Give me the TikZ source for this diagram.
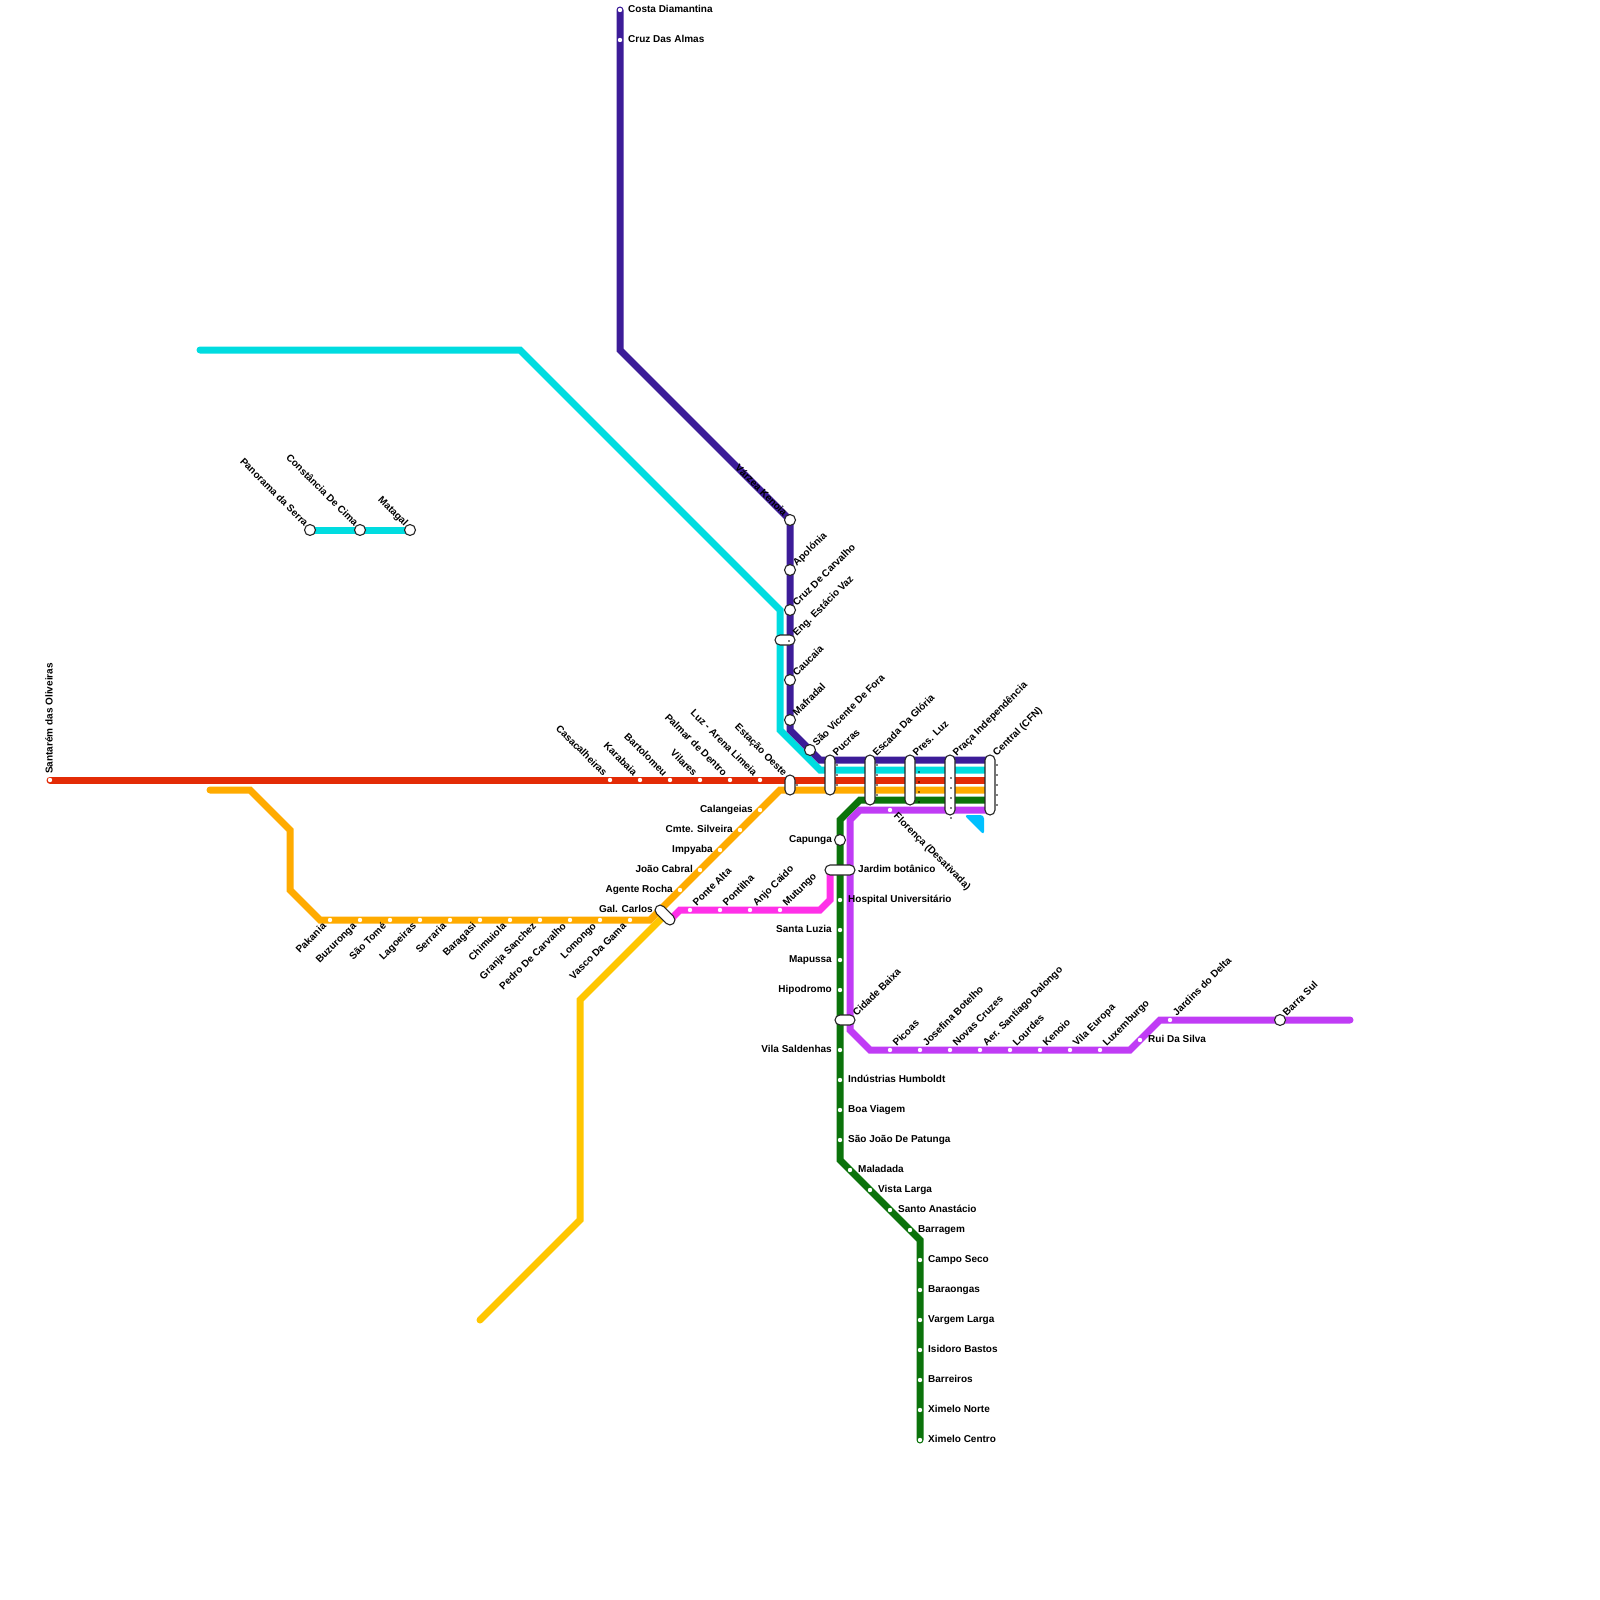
\documentclass[tikz,border=0pt]{standalone}
\usepackage{fontspec}
\setmainfont{Liberation Sans}
\definecolor{redline}{HTML}{E32B06}
\definecolor{purpleline}{HTML}{3C1C98}
\definecolor{cyanline}{HTML}{00DCE0}
\definecolor{orangeline}{HTML}{FFAB00}
\definecolor{yellowline}{HTML}{FFC600}
\definecolor{greenline}{HTML}{0B730B}
\definecolor{violetline}{HTML}{C03CF5}
\definecolor{pinkline}{HTML}{FF30E8}
\definecolor{skyline}{HTML}{00C0FF}

\begin{document}
\begin{tikzpicture}[
  x=1pt, y=-1pt,
  font=\fontsize{10}{12}\bfseries,
  route/.style={line width=7pt, line cap=round, line join=miter},
  halt/.style={circle, fill=white, minimum size=4.4pt, inner sep=0pt},
  hub/.style={circle, draw=black!85, fill=white, line width=1.1pt, minimum size=11pt, inner sep=0pt},
  capsule/.style={draw=black!85, fill=white, line width=1.1pt, rounded corners=5pt, inner sep=0pt,
    minimum width=#1, minimum height=10pt},
  uptext/.style={rotate=45, anchor=west, inner sep=0pt, text height=7.2pt, text depth=2pt},
  downtext/.style={rotate=-45, anchor=east, inner sep=0pt, text height=7.2pt, text depth=2pt},
  falltext/.style={rotate=-45, anchor=west, inner sep=0pt, text height=7.2pt, text depth=2pt},
  backtext/.style={rotate=45, anchor=east, inner sep=0pt, text height=7.2pt, text depth=2pt},
  lefttext/.style={anchor=east, inner sep=0pt, text height=7.2pt, text depth=2pt},
  righttext/.style={anchor=west, inner sep=0pt, text height=7.2pt, text depth=2pt}
]
\useasboundingbox (0,0) rectangle (1600,1600);

% bends of the lines
\foreach \n/\x/\y in {r0/50/780, r1/990/780,
  c0/200/350, c1/520/350, c2/780/610, c3/780/730, c4/820/770, c5/990/770, c6/310/530, c7/410/530,
  u0/620/10, u1/620/350, u2/790/520, u3/790/730, u4/820/760, u5/990/760,
  o0/210/790, o1/250/790, o2/290/830, o3/290/890, o4/320/920, o5/650/920, o6/780/790, o7/990/790,
  y0/480/1320, y1/580/1220, y2/580/1000, y3/665/915,
  m0/669/921, m1/680/910, m2/820/910, m3/830/900, m4/830/870,
  g0/990/800, g1/860/800, g2/840/820, g3/840/1160, g4/920/1240, g5/920/1440,
  v0/990/810, v1/860/810, v2/850/820, v3/850/1030, v4/870/1050, v5/1130/1050, v6/1160/1020, v7/1350/1020}
  \coordinate (\n) at (\x,\y);

\draw[route, cyanline] (c0) -- (c1) -- (c2) -- (c3) -- (c4) -- (c5);
\draw[route, cyanline] (c6) -- (c7);
\draw[route, purpleline] (u0) -- (u1) -- (u2) -- (u3) -- (u4) -- (u5);
\draw[route, redline] (r0) -- (r1);
\draw[route, orangeline] (o0) -- (o1) -- (o2) -- (o3) -- (o4) -- (o5) -- (o6) -- (o7);
\draw[route, yellowline] (y0) -- (y1) -- (y2) -- (y3);
\draw[route, pinkline] (m0) -- (m1) -- (m2) -- (m3) -- (m4);
\draw[route, greenline] (g0) -- (g1) -- (g2) -- (g3) -- (g4) -- (g5);
\draw[route, violetline] (v0) -- (v1) -- (v2) -- (v3) -- (v4) -- (v5) -- (v6) -- (v7);
\fill[skyline, rounded corners=3.5pt] (964,815) -- (984,815) -- (984,835) -- cycle;

% purple line
\node[halt] (costa) at (620,10) {};
\node[halt] (almas) at (620,40) {};
\node[righttext] (costat) at (628,10) {Costa Diamantina};
\node[righttext] (almast) at (628,40) {Cruz Das Almas};
\node[hub] (varzea) at (790,520) {};
\node[downtext] (varzeat) at (785,515) {Várzea Kenoia};
\foreach \y/\name in {570/Apolónia, 610/Cruz De Carvalho, 680/Caucaia, 720/Mafradal} {
  \node[hub] (u\y) at (790,\y) {};
  \node[uptext] (u\y t) at (795,\y-5) {\name};
}
\node[capsule=20pt] (estacio) at (785,640) {};
\node[uptext] (estaciot) at (795,635) {Eng. Estácio Vaz};
\node[hub] (vicente) at (810,750) {};
\node[uptext] (vicentet) at (815,745) {São Vicente De Fora};

% cyan branch
\foreach \x/\name in {310/Panorama da Serra, 360/Constância De Cima, 410/Matagal} {
  \node[hub] (c\x) at (\x,530) {};
  \node[downtext] (c\x t) at (\x-4,525) {\name};
}

% red line
\node[halt] (santarem) at (50,780) {};
\node[rotate=90, anchor=west, inner sep=0pt, text height=7.2pt, text depth=2pt] (santaremt) at (50,774) {Santarém das Oliveiras};
\foreach \x/\name in {610/Casacalheiras, 640/Karabaia, 670/Bartolomeu, 700/Vilares, 730/Palmar de Dentro, 760/Luz - Arena Limeia} {
  \node[halt] (r\x) at (\x,780) {};
  \node[downtext] (r\x t) at (\x-5,775) {\name};
}
\node[downtext] (oestet) at (785,775) {Estação Oeste};

% orange line
\foreach \x/\name in {330/Pakania, 360/Buzuronga, 390/São Tomé, 420/Lagoeiras, 450/Serraria, 480/Baragasi,
  510/Chimuiola, 540/Granja Sanchez, 570/Pedro De Carvalho, 600/Lomongo, 630/Vasco Da Gama} {
  \node[halt] (o\x) at (\x,920) {};
  \node[backtext] (o\x t) at (\x-5,925) {\name};
}
\foreach \y/\name in {810/Calangeias, 830/Cmte. Silveira, 850/Impyaba, 870/João Cabral, 890/Agente Rocha} {
  \node[halt] (o\y) at (1570-\y,\y) {};
  \node[lefttext] (o\y t) at (1563-\y,\y) {\name};
}
\node[lefttext] (carlost) at (653,910) {Gal. Carlos};

% pink line
\foreach \x/\name in {690/Ponte Alta, 720/Pontilha, 750/Anjo Caido, 780/Mutungo} {
  \node[halt] (m\x) at (\x,910) {};
  \node[uptext] (m\x t) at (\x+5,905) {\name};
}

% green line
\foreach \y/\name in {900/Hospital Universitário, 1080/Indústrias Humboldt, 1110/Boa Viagem, 1140/São João De Patunga} {
  \node[halt] (g\y) at (840,\y) {};
  \node[righttext] (g\y t) at (848,\y) {\name};
}
\foreach \y/\name in {930/Santa Luzia, 960/Mapussa, 990/Hipodromo, 1050/Vila Saldenhas} {
  \node[halt] (g\y) at (840,\y) {};
  \node[lefttext] (g\y t) at (832,\y) {\name};
}
\foreach \x/\y/\name in {850/1170/Maladada, 870/1190/Vista Larga, 890/1210/Santo Anastácio, 910/1230/Barragem,
  920/1260/Campo Seco, 920/1290/Baraongas, 920/1320/Vargem Larga, 920/1350/Isidoro Bastos,
  920/1380/Barreiros, 920/1410/Ximelo Norte, 920/1440/Ximelo Centro} {
  \node[halt] (g\y) at (\x,\y) {};
  \node[righttext] (g\y t) at (\x+8,\y) {\name};
}
\node[hub] (capunga) at (840,840) {};
\node[lefttext] (capungat) at (832,840) {Capunga};
\node[capsule=30pt] (jardim) at (840,870) {};
\node[righttext] (jardimt) at (858,870) {Jardim botânico};

% violet line
\node[halt] (florenca) at (890,810) {};
\node[falltext] (florencat) at (895,815) {Florença (Desativada)};
\foreach \x/\name in {890/Picoas, 920/Josefina Botelho, 950/Novas Cruzes, 980/Aer. Santiago Dalongo,
  1010/Lourdes, 1040/Kenoio, 1070/Vila Europa, 1100/Luxemburgo} {
  \node[halt] (v\x) at (\x,1050) {};
  \node[uptext] (v\x t) at (\x+5,1045) {\name};
}
\node[halt] (rui) at (1140,1040) {};
\node[righttext] (ruit) at (1148,1040) {Rui Da Silva};
\node[halt] (delta) at (1170,1020) {};
\node[uptext] (deltat) at (1175,1015) {Jardins do Delta};
\node[hub] (barra) at (1280,1020) {};
\node[uptext] (barrat) at (1285,1015) {Barra Sul};
\node[capsule=20pt] (cidade) at (845,1020) {};
\node[uptext] (cidadet) at (855,1015) {Cidade Baixa};

% interchanges over the bundle
\node[capsule=20pt, rotate=90] (oeste) at (790,785) {};
\node[capsule=40pt, rotate=90] (pucras) at (830,775) {};
\node[capsule=50pt, rotate=90] (escada) at (870,780) {};
\node[capsule=50pt, rotate=90] (luz) at (910,780) {};
\node[capsule=60pt, rotate=90] (praca) at (950,785) {};
\node[capsule=60pt, rotate=90] (central) at (990,785) {};
\node[capsule=24pt, rotate=-45] (carlos) at (665,915) {};
\foreach \x/\name in {830/Pucras, 870/Escada Da Glória, 910/Pres. Luz, 950/Praça Independência, 990/Central (CFN)}
  \node[uptext] (t\x) at (\x+5,755) {\name};

% stray points
\foreach \x/\y in {789/641, 797/785, 837/765, 837/775, 837/785, 877/765, 877/775, 877/785, 877/795,
  919/772, 919/782, 919/792, 919/802, 951/778, 951/788, 951/798, 951/808, 951/818,
  997/765, 997/775, 997/785, 997/795, 997/805}
  \fill (\x,\y) circle (.8pt);
\end{tikzpicture}
\end{document}
